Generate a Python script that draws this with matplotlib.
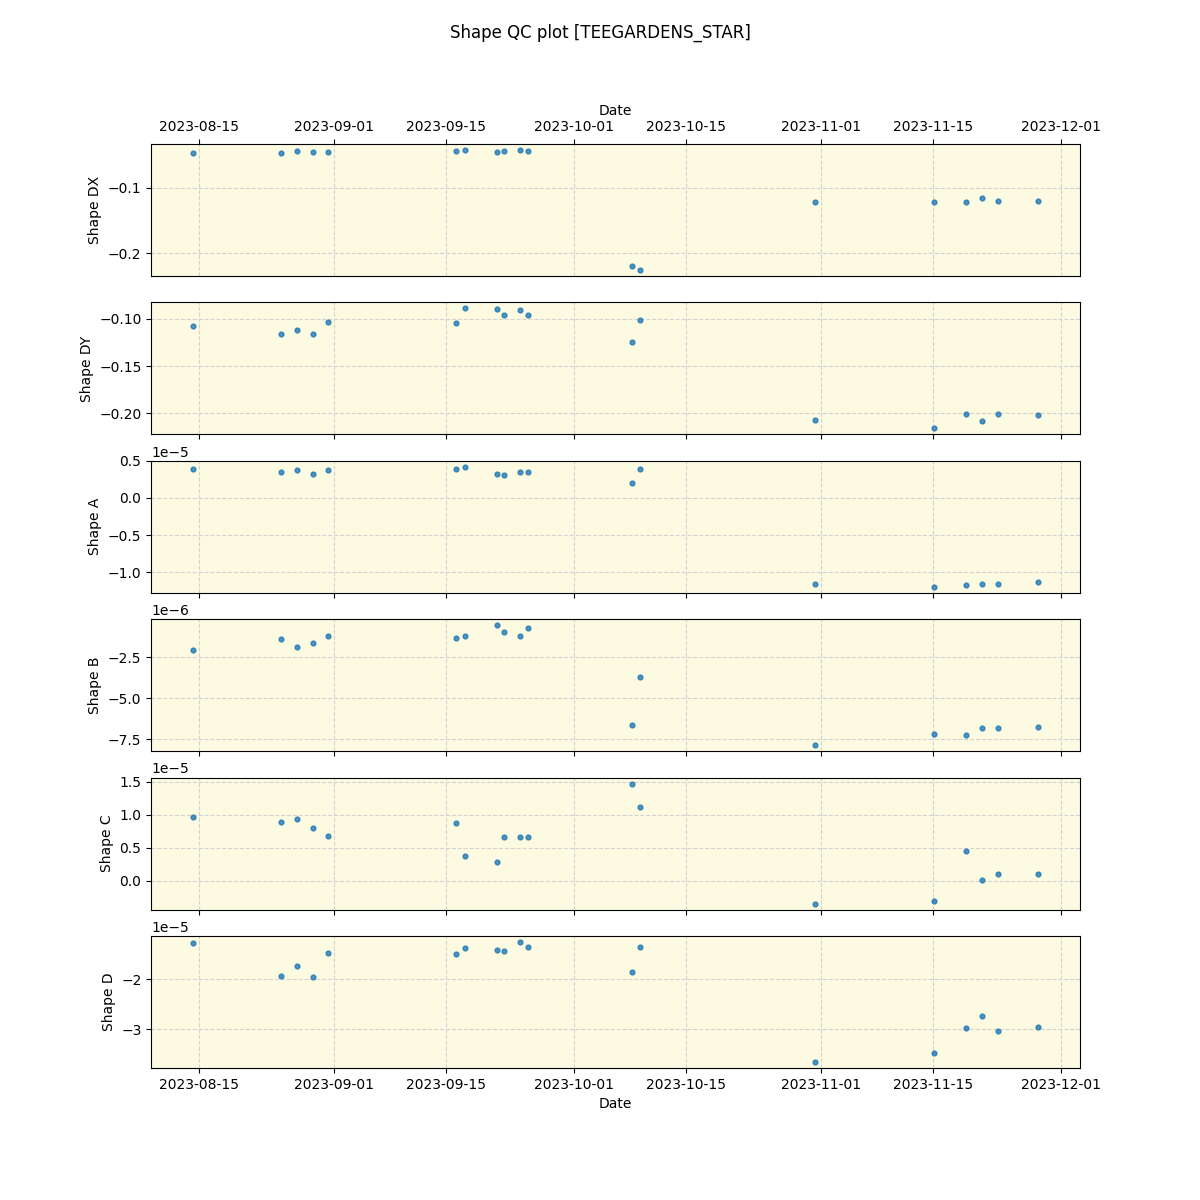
import numpy as np
import pandas as pd
import matplotlib
matplotlib.use("Agg")
import matplotlib.pyplot as plt

# observation dates
dates = pd.to_datetime([
    "2023-08-14 08:00", "2023-08-25 08:00", "2023-08-27 08:00", "2023-08-29 08:00",
    "2023-08-31 06:00", "2023-09-16 06:00", "2023-09-17 08:00", "2023-09-21 08:00",
    "2023-09-22 06:00", "2023-09-24 06:00", "2023-09-25 06:00", "2023-10-08 06:00",
    "2023-10-09 06:00", "2023-10-31 06:00", "2023-11-15 03:00", "2023-11-19 03:00",
    "2023-11-21 03:00", "2023-11-23 03:00", "2023-11-28 03:00",
])

shape_dx = [-0.047, -0.047, -0.044, -0.046, -0.046, -0.044, -0.0425, -0.046, -0.044, -0.0425,
            -0.044, -0.220, -0.2255, -0.1217, -0.1217, -0.1217, -0.1157, -0.120, -0.120]
shape_dy = [-0.1074, -0.1158, -0.1116, -0.1158, -0.1032, -0.104, -0.089, -0.090, -0.0965, -0.091,
            -0.0955, -0.1242, -0.101, -0.2074, -0.2158, -0.201, -0.2084, -0.201, -0.2021]
shape_a = np.array([0.385, 0.344, 0.371, 0.318, 0.371, 0.389, 0.42, 0.32, 0.31, 0.35,
                    0.35, 0.20, 0.39, -1.166, -1.197, -1.170, -1.157, -1.157, -1.130]) * 1e-5
shape_b = np.array([-2.09, -1.42, -1.85, -1.66, -1.18, -1.34, -1.22, -0.55, -0.98, -1.22,
                    -0.73, -6.65, -3.72, -7.87, -7.21, -7.27, -6.85, -6.85, -6.79]) * 1e-6
shape_c = np.array([0.97, 0.894, 0.94, 0.80, 0.68, 0.87, 0.38, 0.29, 0.66, 0.67,
                    0.67, 1.474, 1.126, -0.344, -0.30, 0.455, 0.015, 0.106, 0.106]) * 1e-5
shape_d = np.array([-1.28, -1.94, -1.74, -1.96, -1.48, -1.494, -1.374, -1.414, -1.434, -1.254,
                    -1.354, -1.854, -1.354, -3.654, -3.48, -2.98, -2.74, -3.04, -2.96]) * 1e-5

series = [shape_dx, shape_dy, shape_a, shape_b, shape_c, shape_d]
labels = ["Shape DX", "Shape DY", "Shape A", "Shape B", "Shape C", "Shape D"]

fig, axes = plt.subplots(6, 1, figsize=(12, 12), dpi=100, sharex=True)
fig.subplots_adjust(left=0.126, right=0.9, top=0.88, bottom=0.11, hspace=0.2)

for ax, vals, lab in zip(axes, series, labels):
    ax.set_facecolor("#fcfae1")
    ax.scatter(dates, vals, s=12, color="tab:blue", alpha=0.8, zorder=3)
    ax.set_ylabel(lab)
    ax.grid(True, linestyle="--", color="lightgray", zorder=0)
    ax.set_axisbelow(True)

# top axis shows dates on top
axes[0].xaxis.tick_top()
axes[0].xaxis.set_label_position("top")
axes[0].tick_params(axis="x", labeltop=True)
axes[0].set_xlabel("Date")
axes[-1].set_xlabel("Date")

fig.suptitle("Shape QC plot [TEEGARDENS_STAR]")
fig.savefig("out.png")
